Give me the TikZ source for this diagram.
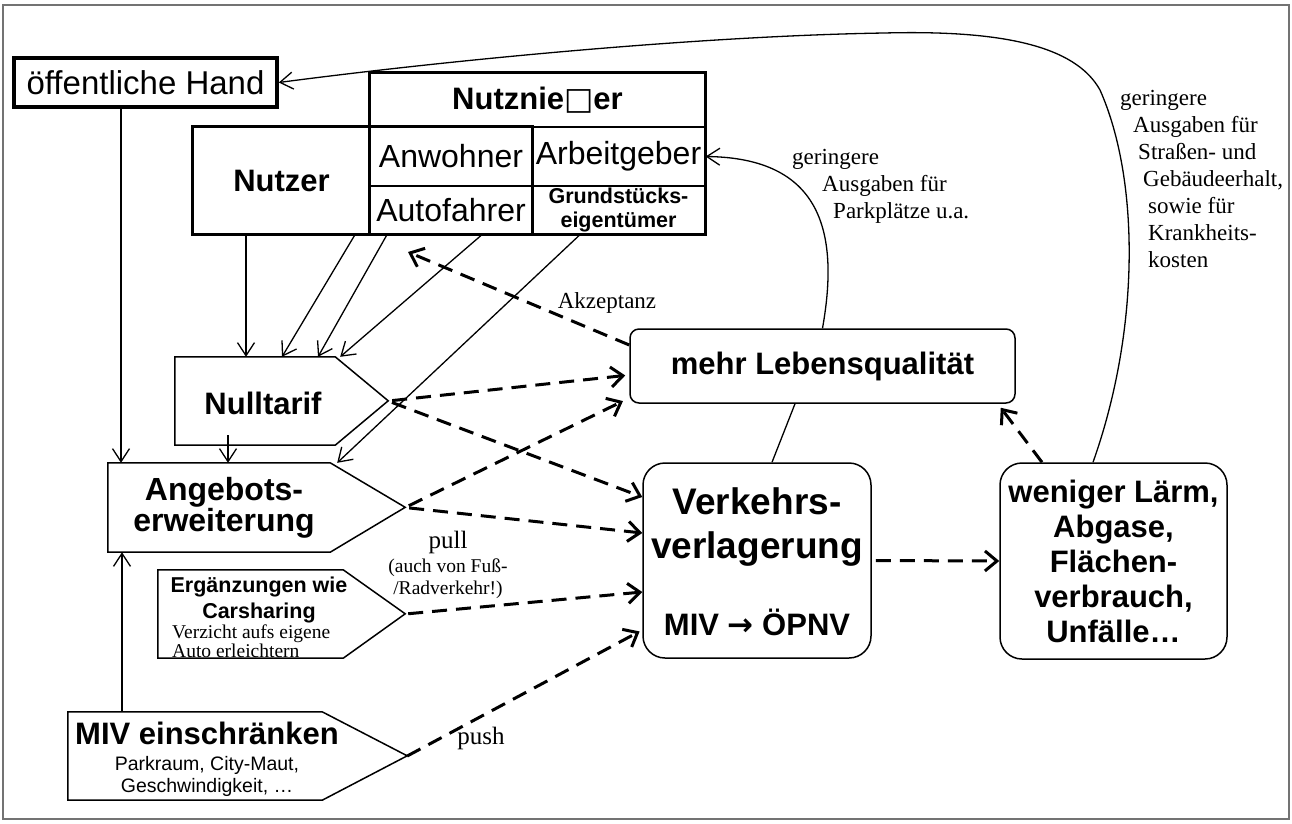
\documentclass[tikz,border=0pt]{standalone}
\usepackage{fontspec}
\setmainfont{Liberation Serif}
\setsansfont{Liberation Sans}
\newfontfamily\symbfont{DejaVu Sans}
\usetikzlibrary{arrows.meta}

\begin{document}
\begin{tikzpicture}[x=1pt,y=-1pt,
    line/.style={line width=1.3pt},
    arr/.style={line,-{Straight Barb[length=13pt,width=17pt]}},
    effect/.style={line width=3pt,dash pattern=on 15pt off 9pt,
                   -{Straight Barb[length=12pt,width=20pt]}},
    box/.style={draw,line width=1.5pt,inner sep=0pt},
    cell/.style={draw,line width=1.3pt,inner sep=0pt},
    frame/.style={inner sep=0pt},
    txt/.style={font=\sffamily\fontsize{32}{36}\selectfont},
    bold/.style={font=\sffamily\bfseries\fontsize{31}{31}\selectfont},
    note/.style={inner sep=0pt,font=\fontsize{23}{27}\selectfont}]
 \useasboundingbox (0,0) rectangle (1292,823);
 \draw[black!55,line width=1.2pt] (3,5) rectangle (1289,819);
 % Nutzer / Nutznießer
 \node[box,line width=3.5pt,minimum width=263pt,minimum height=49pt,font=\sffamily\fontsize{33}{36}\selectfont] (oh) at (145.5,82.5) {öffentliche Hand};
 \node[cell,minimum width=335pt,minimum height=54pt,bold] (nn) at (537.5,100) {Nutznie{\symbfont\mdseries\char"25A1}er};
 \node[cell,minimum width=177pt,minimum height=107pt,bold] (nutzer) at (281.5,180.5) {Nutzer};
 \node[cell,minimum width=162pt,minimum height=59pt,txt] (anw) at (451,156.5) {Anwohner};
 \node[cell,minimum width=173pt,minimum height=59pt,txt] (arb) at (618.5,156.5) {Arbeitgeber};
 \node[cell,minimum width=162pt,minimum height=48pt,txt] (auto) at (451,210) {Autofahrer};
 \node[cell,minimum width=173pt,minimum height=48pt,align=center,
       font=\sffamily\bfseries\fontsize{21.5}{24}\selectfont] (grund) at (618.5,210) {Grundstücks-\\eigentümer};
 \draw[line width=3.5pt] (nutzer.north west) rectangle (auto.south east);
 \draw[line width=3.5pt] (nn.north west) rectangle (grund.south east);
 % Maßnahmen
 \node[frame,minimum width=160pt,minimum height=88pt] (nt) at (255,401) {};
 \draw[line width=1.5pt] (nt.north west) -- (nt.north east) -- ++(53,44) -- (nt.south east) -- (nt.south west) -- cycle;
 \coordinate (nt-tip) at ([xshift=53pt]nt.east);
 \node[bold] (nt-t) at (263,403) {Nulltarif};
 \node[frame,minimum width=222pt,minimum height=89pt] (ang) at (219,507.5) {};
 \draw[line width=1.5pt] (ang.north west) -- (ang.north east) -- ++(75,44.5) -- (ang.south east) -- (ang.south west) -- cycle;
 \coordinate (ang-tip) at ([xshift=75pt]ang.east);
 \node[align=center,font=\sffamily\bfseries\fontsize{32}{31}\selectfont] (ang-t) at (224,508) {Angebots-\\erweiterung};
 \node[frame,minimum width=185pt,minimum height=88pt] (erg) at (250.5,614) {};
 \draw[line width=1.5pt] (erg.north west) -- (erg.north east) -- ++(62,44) -- (erg.south east) -- (erg.south west) -- cycle;
 \coordinate (erg-tip) at ([xshift=62pt]erg.east);
 \node[align=center,font=\sffamily\bfseries\fontsize{21.5}{26}\selectfont] (erg-t) at (259,600) {Ergänzungen wie\\Carsharing};
 \node[inner sep=0pt,align=left,anchor=west,font=\fontsize{19.5}{17.5}\selectfont] (erg-s) at (172,641.5) {Verzicht aufs eigene\\Auto erleichtern};
 \node[frame,minimum width=254pt,minimum height=88pt] (miv) at (195,756) {};
 \draw[line width=1.5pt] (miv.north west) -- (miv.north east) -- ++(85,44) -- (miv.south east) -- (miv.south west) -- cycle;
 \coordinate (miv-tip) at ([xshift=85pt]miv.east);
 \node[font=\sffamily\bfseries\fontsize{31}{32}\selectfont] (miv-t) at (207,733) {MIV einschränken};
 \node[align=center,font=\sffamily\fontsize{19.5}{22}\selectfont] (miv-s) at (207,776) {Parkraum, City-Maut,\\Geschwindigkeit, …};
 % Wirkungen
 \node[box,rounded corners=9pt,minimum width=385pt,minimum height=74pt,bold] (leb) at (822.5,366) {mehr Lebensqualität};
 \node[box,rounded corners=22pt,minimum width=228pt,minimum height=195pt] (verk) at (757,560.5) {};
 \node[align=center,font=\sffamily\bfseries\fontsize{37}{44}\selectfont] (verk-t) at (757,527) {Verkehrs-\\verlagerung};
 \node[font=\sffamily\bfseries\fontsize{31}{36}\selectfont] (verk-m) at (757,622) {MIV {\symbfont\bfseries →} ÖPNV};
 \node[box,rounded corners=22pt,minimum width=227pt,minimum height=196pt,align=center,
       font=\sffamily\bfseries\fontsize{31}{35}\selectfont] (wen) at (1113.5,561) {weniger Lärm,\\Abgase,\\Flächen-\\verbrauch,\\Unfälle…};
 % Zuflüsse
 \coordinate (oh-foot) at ([xshift=-24.5pt]oh.south);
 \draw[arr] (oh-foot) -- (oh-foot |- ang.north);
 \coordinate (miv-head) at ([xshift=-73pt]miv.north);
 \draw[arr] (miv-head) -- (miv-head |- ang.south);
 \draw[arr] ([xshift=-35.5pt]nutzer.south) -- ([xshift=-9pt]nt.north);
 \draw[arr] ([xshift=73.5pt]nutzer.south) -- ([xshift=27pt]nt.north);
 \draw[arr] ([xshift=-64pt]auto.south) -- ([xshift=63pt]nt.north);
 \draw[arr] ([xshift=31pt]auto.south) -- ([xshift=5pt]nt.north east);
 \draw[arr] ([xshift=-38.5pt]grund.south) -- ([xshift=7pt]ang.north east);
 \draw[arr] ([xshift=-27pt,yshift=10pt]nt.south) -- ([xshift=9pt]ang.north);
 % Effekte
 \coordinate (akz-end) at (408,252);
 \draw[effect] ([yshift=21pt]leb.west) -- (akz-end);
 \node[note] (akz) at (607,303) {Akzeptanz};
 \draw[effect,shorten <=4pt,shorten >=4pt] (nt-tip) -- ([yshift=-9pt]leb.west);
 \draw[effect,shorten <=4pt,shorten >=7pt] (ang-tip) -- ([yshift=-32pt]leb.west);
 \draw[effect,shorten <=4pt] (nt-tip) -- ([yshift=63.5pt]verk.west);
 \draw[effect,shorten <=4pt] (ang-tip) -- ([yshift=27.5pt]verk.west);
 \draw[effect,shorten <=3pt] (erg-tip) -- ([yshift=-31.5pt]verk.west);
 \draw[effect,shorten >=3pt] (miv-tip) -- ([yshift=-69.5pt]verk.west);
 \draw[effect,shorten <=4pt] (verk.east) -- (wen.west);
 \draw[effect] ([xshift=-71.5pt]wen.north) -- ([xshift=-15pt,yshift=-4pt]leb.south east);
 \node[font=\fontsize{25}{28}\selectfont] (pull) at (448,542) {pull};
 \node[align=center,font=\fontsize{19.5}{22}\selectfont] (pull-s) at (448,579) {(auch von Fuß-\\/Radverkehr!)};
 \node[font=\fontsize{25}{28}\selectfont] (push) at (481,738) {push};
 % Rückflüsse
 \draw[line] ([xshift=-27.5pt]leb.south) -- ([xshift=15pt]verk.north);
 \draw[arr] (leb.north) .. controls (840,230) and (820,158) .. (arb.east);
 \node[note,align=left,anchor=west] (park) at (792,186.5) {geringere\\\hspace*{30pt}Ausgaben für\\\hspace*{41pt}Parkplätze u.a.};
 \draw[arr] ([xshift=-20.5pt]wen.north) .. controls (1140,330) and (1140,180) .. (1100,90)
            .. controls (1075,45) and (1000,30) .. (884,33)
            .. controls (700,36) and (450,60) .. (oh.east);
 \node[note,align=left,anchor=west] (cost) at (1120,179) {geringere\\\hspace*{13pt}Ausgaben für\\\hspace*{18pt}Straßen- und\\\hspace*{23pt}Gebäudeerhalt,\\\hspace*{28pt}sowie für\\\hspace*{28pt}Krankheits-\\\hspace*{28pt}kosten};
\end{tikzpicture}
\end{document}
